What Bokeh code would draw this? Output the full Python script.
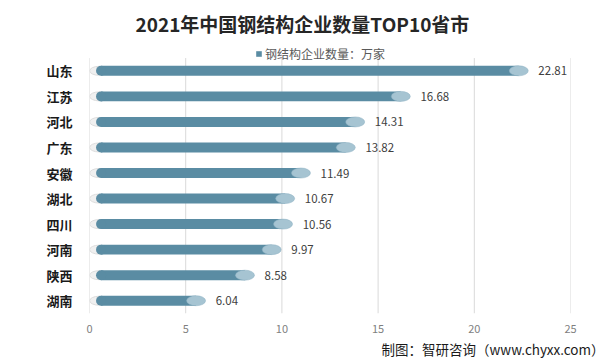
from bokeh.plotting import figure
from bokeh.models import Range1d, FixedTicker, Title, Legend, LegendItem, ColumnDataSource
from bokeh.core.properties import value
from bokeh.embed import file_html
from bokeh.resources import INLINE

provinces = ["山东", "江苏", "河北", "广东", "安徽", "湖北", "四川", "河南", "陕西", "湖南"]
counts = [22.81, 16.68, 14.31, 13.82, 11.49, 10.67, 10.56, 9.97, 8.58, 6.04]
x_ticks = [0, 5, 10, 15, 20, 25]
title_text = "2021年中国钢结构企业数量TOP10省市"
series_name = "钢结构企业数量：万家"
footer_text = "制图：智研咨询（www.chyxx.com）"

FONT = "Noto Sans CJK SC"
BAR = "#5A8CA3"
CAP = "#A6C4D2"

n = len(provinces)
ypos = [n - 1 - i for i in range(n)]  # first province at top

src = ColumnDataSource(dict(
    y=ypos,
    val=counts,
    start=[0.6] * n,
    zero=[0.5] * n,
    endcap=[v - 0.5 for v in counts],
    lab=[f"{v:.2f}" for v in counts],
))

p = figure(width=606, height=364, output_backend="svg", toolbar_location=None,
           y_range=Range1d(-0.5, n - 0.5 + 0.57),
           x_range=Range1d(0, 25),
           min_border_left=89, min_border_right=36, min_border_top=0, min_border_bottom=51)
p.outline_line_color = None
p.background_fill_color = "white"
p.border_fill_color = "white"

p.title.text = title_text
p.title.align = "left"
p.title.offset = 46
p.title.text_font = FONT
p.title.text_font_size = "19px"
p.title.text_font_style = "bold"
p.title.text_color = "#262626"
p.title.standoff = 14

p.xgrid.grid_line_color = None
p.ygrid.grid_line_color = None
# vertical grid lines limited to the category band area
p.segment(x0=x_ticks, x1=x_ticks, y0=[-0.5] * len(x_ticks), y1=[n - 0.5] * len(x_ticks),
          line_color="#D9D9D9", line_width=1)

p.xaxis.ticker = FixedTicker(ticks=x_ticks)
p.xaxis.axis_line_color = None
p.xaxis.major_tick_line_color = None
p.xaxis.minor_tick_line_color = None
p.xaxis.major_label_text_color = "#7F7F7F"
p.xaxis.major_label_text_font = FONT
p.xaxis.major_label_text_font_size = "11px"
p.xaxis.major_label_standoff = 5

p.yaxis.ticker = FixedTicker(ticks=ypos)
p.yaxis.major_label_overrides = {y: name for y, name in zip(ypos, provinces)}
p.yaxis.axis_line_color = None
p.yaxis.major_tick_line_color = None
p.yaxis.minor_tick_line_color = None
p.yaxis.major_label_text_color = "#1A1A1A"
p.yaxis.major_label_text_font = FONT
p.yaxis.major_label_text_font_size = "13px"
p.yaxis.major_label_text_font_style = "bold"
p.yaxis.major_label_standoff = 11

# base cap (light grey)
p.ellipse(x="zero", y="y", width=19, height=9, width_units="screen", height_units="screen",
          source=src, fill_color="#F0F0F0", line_color="#DCDCDC", line_width=1)
# bar body
bars = p.hbar(y="y", left="start", right="endcap", height=0.39, source=src,
              fill_color=BAR, line_color=None)
p.ellipse(x="start", y="y", width=10, height=10, width_units="screen", height_units="screen",
          source=src, fill_color=BAR, line_color=None)
# end cap
p.ellipse(x="endcap", y="y", width=19, height=10, width_units="screen", height_units="screen",
          source=src, fill_color=CAP, line_color="#8DB1C2", line_width=0.5)

p.text(x="val", y="y", text="lab", source=src, x_offset=10,
       text_baseline="middle", text_align="left",
       text_font=value(FONT), text_font_size="11.5px", text_color="#404040")

legend = Legend(items=[LegendItem(label=series_name, renderers=[bars])],
                location=(166, 251), orientation="horizontal",
                background_fill_alpha=0, border_line_color=None,
                label_text_font=FONT, label_text_font_size="12px", label_text_color="#595959",
                glyph_width=7, glyph_height=7, label_standoff=3, padding=0, margin=0,
                label_height=12)
p.add_layout(legend, "center")

p.add_layout(Title(text=footer_text, align="right", text_font=FONT, text_font_size="13.5px",
                   text_color="#1A1A1A", text_font_style="normal", standoff=2, offset=-34), "below")

open("out.html", "w").write(file_html(p, INLINE))
